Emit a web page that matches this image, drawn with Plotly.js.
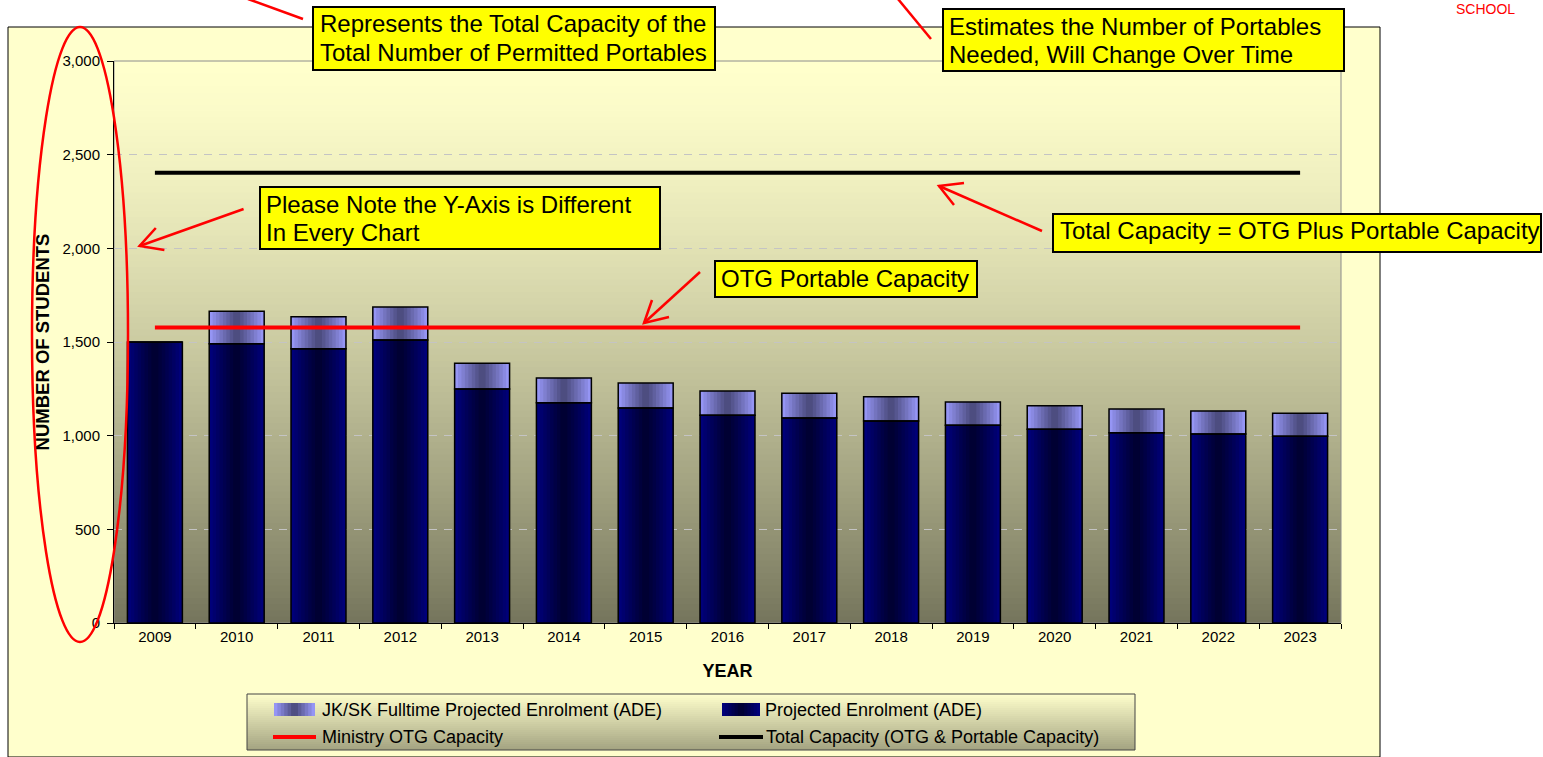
<!DOCTYPE html>
<html><head><meta charset="utf-8">
<script src="https://cdn.plot.ly/plotly-3.0.1.min.js"></script>
<style>html,body{margin:0;padding:0;background:#fff;}#chart{width:1543px;height:757px;}</style>
</head><body><div id="chart"></div>
<script>
// ---------- data ----------
const years = ['2009','2010','2011','2012','2013','2014','2015','2016','2017','2018','2019','2020','2021','2022','2023'];
const projected = [1500,1491,1464,1511,1249,1176,1148,1109,1094,1078,1055,1034,1016,1009,997];
const jkFulltime = [0,173,171,176,137,132,133,129,132,130,125,126,126,123,122];
const otgCapacity = [1577,1577,1577,1577,1577,1577,1577,1577,1577,1577,1577,1577,1577,1577,1577];
const totalCapacity = [2403,2403,2403,2403,2403,2403,2403,2403,2403,2403,2403,2403,2403,2403,2403];
const yTickVals = [0,500,1000,1500,2000,2500,3000];
const legendLabels = ['JK/SK Fulltime Projected Enrolment (ADE)','Projected Enrolment (ADE)','Ministry OTG Capacity','Total Capacity (OTG & Portable Capacity)'];
const noteA = ['Represents the Total Capacity of the','Total Number of Permitted Portables'];
const noteB = ['Estimates the Number of Portables','Needed, Will Change Over Time'];
const noteC = ['Please Note the Y-Axis is Different','In Every Chart'];
const noteD = ['OTG Portable Capacity'];
const noteE = ['Total Capacity = OTG Plus Portable Capacity'];

// ---------- helpers ----------
const F = 'Liberation Sans, Arial, Helvetica, sans-serif';
const L = 114, R = 1341, T = 61, B = 623;
const px = x => (x - L) / (R - L);
const py = y => (B - y) / (B - T);
function hex2rgb(h){h=h.replace('#','');return [parseInt(h.substr(0,2),16),parseInt(h.substr(2,2),16),parseInt(h.substr(4,2),16)];}
function mix(a,b,t){const A=hex2rgb(a),Bc=hex2rgb(b);return 'rgb('+A.map((v,i)=>Math.round(v+(Bc[i]-v)*t)).join(',')+')';}

const BW = 0.672;
const NG = 8;
const traces = [];
function gradientBars(yv, base, edge, center){
  for(let k=0;k<NG;k++){
    const t = (k+0.5)/NG;
    const tr = {type:'bar', x:years, y:yv, width:BW*(1-k/NG),
      marker:{color:mix(edge,center,Math.pow(t,0.9)), line:{width:0}},
      hoverinfo:'skip', showlegend:false};
    if(base) tr.base = base;
    traces.push(tr);
  }
}
gradientBars(projected, null, '#000080', '#00002E');
gradientBars(jkFulltime, projected, '#9C9CFF', '#484878');
traces.push({type:'bar', x:years, y:projected, width:BW, name:legendLabels[1],
  marker:{color:'rgba(0,0,0,0)', line:{color:'#000', width:1.5}}, showlegend:false});
traces.push({type:'bar', x:years, y:jkFulltime, base:projected, width:BW, name:legendLabels[0],
  marker:{color:'rgba(0,0,0,0)', line:{color:'#000', width:1.5}}, showlegend:false});
traces.push({type:'scatter', mode:'lines', x:years, y:otgCapacity, name:legendLabels[2],
  line:{color:'#FF0000', width:4}, showlegend:false});
traces.push({type:'scatter', mode:'lines', x:years, y:totalCapacity, name:legendLabels[3],
  line:{color:'#000000', width:4}, showlegend:false});

// ---------- shapes ----------
const shapes = [];
// outer chart area
shapes.push({type:'rect', xref:'paper', yref:'paper', x0:px(8), x1:px(1380), y0:py(27), y1:py(757),
  fillcolor:'#FFFFCC', line:{color:'#000', width:1}, layer:'below'});
// plot-area gradient (strips overlap to avoid seams)
const NS = 90;
const ov = 1.5/(B-T);
for(let k=0;k<NS;k++){
  const t = (k+0.5)/NS; // 0 top -> 1 bottom
  shapes.push({type:'rect', xref:'paper', yref:'paper', x0:0, x1:1,
    y0:Math.max(0,1-(k+1)/NS-ov), y1:1-k/NS,
    fillcolor:mix('#FFFFCC','#75755C',Math.pow(t,1.4)), line:{width:0}, layer:'below'});
}
shapes.push({type:'rect', xref:'paper', yref:'paper', x0:0, x1:1, y0:0, y1:1,
  fillcolor:'rgba(0,0,0,0)', line:{color:'#8C8C8C', width:1}, layer:'below'});
// legend box
const LG = {x0:247, x1:1135, y0:694, y1:750};
const NL = 28;
for(let k=0;k<NL;k++){
  const y0 = LG.y0 + (LG.y1-LG.y0)*k/NL, y1 = Math.min(LG.y1, LG.y0 + (LG.y1-LG.y0)*(k+1)/NL + 1.5);
  shapes.push({type:'rect', xref:'paper', yref:'paper', x0:px(LG.x0), x1:px(LG.x1), y0:py(y1), y1:py(y0),
    fillcolor:mix('#FFFFCC','#A3A381',(k+0.5)/NL), line:{width:0}, layer:'above'});
}
shapes.push({type:'rect', xref:'paper', yref:'paper', x0:px(LG.x0), x1:px(LG.x1), y0:py(LG.y1), y1:py(LG.y0),
  fillcolor:'rgba(0,0,0,0)', line:{color:'#444', width:1}, layer:'above'});
function swatch(x0,x1,y0,y1,edge,center){
  const n=12, w=(x1-x0)/n;
  for(let i=0;i<n;i++){
    const c=(i+0.5)/n; const d=Math.abs(c-0.5)*2;
    shapes.push({type:'rect', xref:'paper', yref:'paper', x0:px(x0+i*w), x1:px(Math.min(x1, x0+(i+1)*w+1)), y0:py(y1), y1:py(y0),
      fillcolor:mix(center,edge,d), line:{width:0}, layer:'above'});
  }
}
swatch(274,315,703,716,'#9C9CFF','#484878');
swatch(722,760,703,716,'#000080','#00002E');
shapes.push({type:'line', xref:'paper', yref:'paper', x0:px(273), x1:px(316), y0:py(737), y1:py(737), line:{color:'#FF0000', width:4}, layer:'above'});
shapes.push({type:'line', xref:'paper', yref:'paper', x0:px(719), x1:px(763), y0:py(737), y1:py(737), line:{color:'#000', width:4}, layer:'above'});

// red arrows and ellipse
const red = {color:'#FF0000', width:2.5};
function seg(pts){
  return {type:'path', xref:'paper', yref:'paper', layer:'above', line:red, fillcolor:'rgba(0,0,0,0)',
    path: pts.map((p,i)=>(i?'L':'M')+px(p[0])+','+py(p[1])).join(' ')};
}
shapes.push(seg([[248,-1],[303,19]]));
shapes.push(seg([[898,-1],[931,39]]));
shapes.push(seg([[243.6,209],[139.6,246]]));
shapes.push(seg([[155.8,228],[139.6,246],[164.4,250]]));
shapes.push(seg([[1042,231],[939,186]]));
shapes.push(seg([[964,183],[939,186],[954,205]]));
shapes.push(seg([[700,272],[644,323]]));
shapes.push(seg([[652,300],[644,323],[669,317]]));
shapes.push({type:'circle', xref:'paper', yref:'paper', x0:px(32), x1:px(128), y0:py(642), y1:py(27),
  line:red, fillcolor:'rgba(0,0,0,0)', layer:'above'});

// note boxes
const annotations = [];
function note(lines, x0, x1, y0, y1, tx, ty, dy){
  shapes.push({type:'rect', xref:'paper', yref:'paper', x0:px(x0), x1:px(x1), y0:py(y1), y1:py(y0),
    fillcolor:'#FFFF00', line:{color:'#000', width:2}, layer:'above'});
  lines.forEach((s,i)=>annotations.push({xref:'paper', yref:'paper', x:px(tx), y:py(ty+i*dy),
    xanchor:'left', yanchor:'middle', text:s, showarrow:false, font:{family:F, size:24, color:'#000'}}));
}
note(noteA, 313, 715, 7, 70, 318, 24, 28.5);
note(noteB, 943, 1344, 9, 71, 947, 26, 28.5);
note(noteC, 260, 660, 187, 249, 264, 204, 28.5);
note(noteD, 715, 977, 261, 297, 719, 278, 0);
note(noteE, 1053, 1541, 214, 252, 1058, 230, 0);

// legend texts
[[legendLabels[0],320,710],[legendLabels[1],763,710],[legendLabels[2],320,737],[legendLabels[3],764,737]].forEach(a=>{
  annotations.push({xref:'paper', yref:'paper', x:px(a[1]), y:py(a[2]), xanchor:'left', yanchor:'middle',
    text:a[0], showarrow:false, font:{family:F, size:18, color:'#000'}});
});
annotations.push({xref:'paper', yref:'paper', x:px(1485), y:py(9), xanchor:'center', yanchor:'middle',
  text:'SCHOOL', showarrow:false, font:{family:F, size:14, color:'#FF0000'}});

const layout = {
  width:1543, height:757,
  margin:{l:L, r:1543-R, t:T, b:757-B, pad:0},
  paper_bgcolor:'#FFFFFF', plot_bgcolor:'rgba(0,0,0,0)',
  barmode:'overlay', showlegend:false,
  font:{family:F, color:'#000'},
  xaxis:{type:'category', range:[-0.5,14.5], tickson:'boundaries', ticks:'outside', ticklen:5, tickwidth:1, tickcolor:'#000',
    showline:true, linecolor:'#000', linewidth:1, showgrid:false, zeroline:false,
    tickfont:{family:F, size:15, color:'#000'},
    title:{text:'YEAR', font:{family:F, size:18, weight:'bold', color:'#000'}, standoff:20}},
  yaxis:{range:[0,3000], tickvals:yTickVals, tickformat:',d', ticks:'outside', ticklen:6, tickwidth:1, tickcolor:'#000',
    showline:true, linecolor:'#000', linewidth:1, showgrid:true, gridcolor:'#C4C4C4', gridwidth:1, griddash:'8px,7px',
    zeroline:false, ticklabelstandoff:4,
    tickfont:{family:F, size:15, color:'#000'},
    title:{text:'NUMBER OF STUDENTS', font:{family:F, size:18.5, weight:'bold', color:'#000'}, standoff:7}},
  shapes:shapes, annotations:annotations
};
Plotly.newPlot('chart', traces, layout, {displayModeBar:false, responsive:false});
</script></body></html>
